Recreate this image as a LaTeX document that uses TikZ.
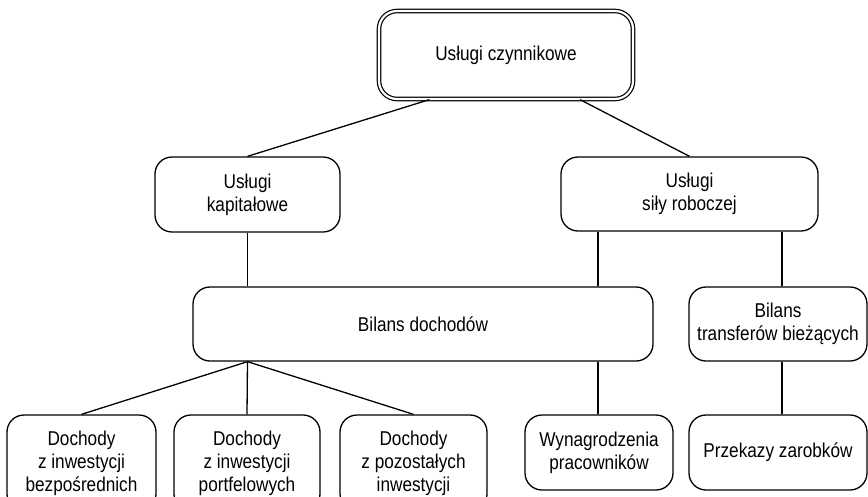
\documentclass[tikz,border=0pt]{standalone}
\usepackage{fontspec}
\setmainfont{Liberation Sans}[FakeStretch=0.86]
\usetikzlibrary{calc}
\begin{document}
\begin{tikzpicture}[x=1pt,y=-1pt,
  box/.style={draw, rounded corners=17pt, line width=1.3pt, align=center, inner sep=0pt,
    font=\fontsize{20}{23}\selectfont},
  dbox/.style={box, double, double distance=2.2pt, line width=1.2pt, rounded corners=18pt},
  conn/.style={line width=1.3pt}]
\useasboundingbox (0,0) rectangle (868,496);
\clip (0,0) rectangle (868,496);
\node[dbox, minimum width=254pt, minimum height=88pt] (top) at (506,55) {Usługi czynnikowe};
\node[box, minimum width=185pt, minimum height=75pt] (kap) at (247.5,194.5) {Usługi\\kapitałowe};
\node[box, minimum width=257pt, minimum height=74pt] (sil) at (689.5,194) {Usługi\\siły roboczej};
\node[box, minimum width=460pt, minimum height=74pt] (bd) at (423,324) {Bilans dochodów};
\node[box, minimum width=178pt, minimum height=74pt] (bt) at (778,324) {Bilans\\transferów bieżących};
\node[box, minimum width=149pt, minimum height=96pt] (d1) at (81.5,463) {Dochody\\z inwestycji\\bezpośrednich};
\node[box, minimum width=146pt, minimum height=96pt] (d2) at (247,463) {Dochody\\z inwestycji\\portfelowych};
\node[box, minimum width=147pt, minimum height=96pt] (d3) at (413.5,463) {Dochody\\z pozostałych\\inwestycji};
\node[box, minimum width=148pt, minimum height=75pt] (wyn) at (599,452.5) {Wynagrodzenia\\pracowników};
\node[box, minimum width=178pt, minimum height=75pt] (prz) at (778,452.5) {Przekazy zarobków};
% connectors
\draw[conn] ($(top.south west)!0.2!(top.south east)$) -- (kap.north);
\draw[conn] ($(top.south west)!0.79!(top.south east)$) -- (sil.north);
\draw[conn] (kap.south) -- (kap.south |- bd.north);
\draw[conn] ([xshift=-91.5pt]sil.south) coordinate (a) -- (a |- bd.north);
\draw[conn] ([xshift=4pt]bt.north) coordinate (b) -- (b |- sil.south);
\draw[conn] (kap.south |- bd.south) coordinate (c) -- (d1.north);
\draw[conn] (c) -- (d2.north);
\draw[conn] (c) -- (d3.north);
\draw[conn] (a |- bd.south) -- (a |- wyn.north);
\draw[conn] (b |- bt.south) -- (b |- prz.north);
\end{tikzpicture}
\end{document}
